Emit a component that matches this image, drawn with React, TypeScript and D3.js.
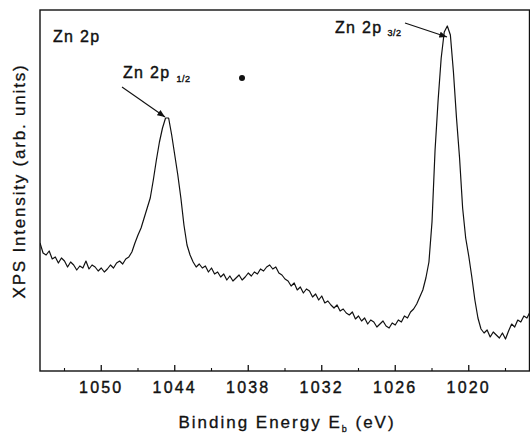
import React from "react";
import * as d3 from "d3";

// Binding energy sampling grid (eV), 0.25 eV steps from 1055 down to 1015
const E_START = 1055;
const E_STEP = 0.25;

// XPS intensity (arb. units), one value per grid point
const intensity: number[] = [
  128, 118, 116, 120, 112, 114, 108, 113, 110, 104,
  109, 106, 101, 105, 103, 110, 102, 106, 104, 100,
  103, 99, 102, 106, 103, 108, 110, 107, 112, 114,
  119, 128, 136, 143, 153, 163, 173, 191, 211, 229,
  243, 253, 253, 236, 216, 196, 173, 146, 126, 116,
  109, 104, 107, 103, 105, 99, 103, 97, 99, 94,
  97, 91, 95, 90, 93, 96, 91, 94, 98, 95,
  99, 97, 102, 100, 104, 106, 102, 104, 98, 96,
  92, 90, 85, 88, 81, 84, 78, 82, 80, 74,
  77, 71, 75, 68, 70, 66, 63, 66, 60, 62,
  58, 56, 59, 52, 55, 50, 53, 47, 51, 49,
  44, 47, 50, 45, 43, 48, 46, 51, 49, 55,
  53, 59, 62, 67, 74, 81, 93, 109, 149, 221,
  271, 313, 339, 345, 336, 299, 253, 213, 163, 133,
  115, 94, 71, 53, 42, 38, 41, 34, 39, 36,
  33, 38, 32, 40, 47, 44, 51, 49, 55, 53,
  59,
];

const majorTicks = [1050, 1044, 1038, 1032, 1026, 1020];
const minorTicks = [1053, 1047, 1041, 1035, 1029, 1023, 1017];

const data = intensity.map((v, i) => ({ e: E_START - i * E_STEP, v }));

const W = 530;
const H = 437;
const left = 40;
const right = 529.5;
const top = 10;
const bottom = 371;

export default function App() {
  const x = d3.scaleLinear().domain([1055, 1015]).range([left, 530]);
  const y = d3.scaleLinear().domain([0, 361]).range([bottom, top]);
  const line = d3
    .line<{ e: number; v: number }>()
    .x((d) => x(d.e))
    .y((d) => y(d.v));

  const font = "'Liberation Sans', Arial, sans-serif";

  return (
    <svg
      width={W}
      height={H}
      style={{ position: "absolute", left: 0, top: 0, background: "#fff" }}
      fontFamily={font}
    >
      <defs>
        <marker
          id="ah"
          viewBox="0 0 10 10"
          refX="10"
          refY="5"
          markerWidth="7"
          markerHeight="7"
          orient="auto"
        >
          <path d="M0,1 L10,5 L0,9 z" fill="#111" />
        </marker>
        <clipPath id="clip">
          <rect x={left} y={top} width={right - left} height={bottom - top} />
        </clipPath>
      </defs>
      <rect x={0} y={0} width={W} height={H} fill="#fff" />

      <path
        d={line(data) || ""}
        fill="none"
        stroke="#111"
        strokeWidth={1.2}
        strokeLinejoin="round"
        clipPath="url(#clip)"
      />

      {/* frame */}
      <rect
        x={left}
        y={top}
        width={right - left}
        height={bottom - top}
        fill="none"
        stroke="#111"
        strokeWidth={1.4}
      />

      {majorTicks.map((t) => (
        <g key={"M" + t}>
          <line x1={x(t)} x2={x(t)} y1={bottom} y2={bottom - 6} stroke="#111" strokeWidth={1.3} />
          <text
            x={x(t)}
            y={393}
            textAnchor="middle"
            fontSize={16}
            letterSpacing={2.2}
            stroke="#111"
            strokeWidth={0.4}
            fill="#111"
          >
            {t}
          </text>
        </g>
      ))}
      {minorTicks.map((t) => (
        <line key={"m" + t} x1={x(t)} x2={x(t)} y1={bottom} y2={bottom - 3} stroke="#111" strokeWidth={1.1} />
      ))}

      <text
        x={287}
        y={428}
        textAnchor="middle"
        fontSize={17}
        letterSpacing={2}
        fill="#111"
        stroke="#111"
        strokeWidth={0.3}
      >
        Binding Energy E
        <tspan fontSize={9} dy={4}>b</tspan>
        <tspan dy={-4}> (eV)</tspan>
      </text>

      <text
        transform={`translate(25,181) rotate(-90)`}
        textAnchor="middle"
        fontSize={17}
        letterSpacing={1.8}
        fill="#111"
        stroke="#111"
        strokeWidth={0.3}
      >
        XPS Intensity (arb. units)
      </text>

      <text x={53} y={42} fontSize={16} letterSpacing={1.3} fill="#111" stroke="#111" strokeWidth={0.4}>
        Zn 2p
      </text>

      <text x={123} y={78} fontSize={16} letterSpacing={1.3} fill="#111" stroke="#111" strokeWidth={0.4}>
        Zn 2p
        <tspan fontSize={9} dx={6} dy={4} letterSpacing={0.5}>1/2</tspan>
      </text>
      <line x1={122} y1={87} x2={165} y2={117} stroke="#111" strokeWidth={1.1} markerEnd="url(#ah)" />
      <circle cx={242} cy={78} r={3} fill="#111" />

      <text x={335} y={33} fontSize={16} letterSpacing={1.3} fill="#111" stroke="#111" strokeWidth={0.4}>
        Zn 2p
        <tspan fontSize={9} dx={5} dy={3} letterSpacing={0.5}>3/2</tspan>
      </text>
      <line x1={405} y1={23} x2={447} y2={37} stroke="#111" strokeWidth={1.1} markerEnd="url(#ah)" />
    </svg>
  );
}
